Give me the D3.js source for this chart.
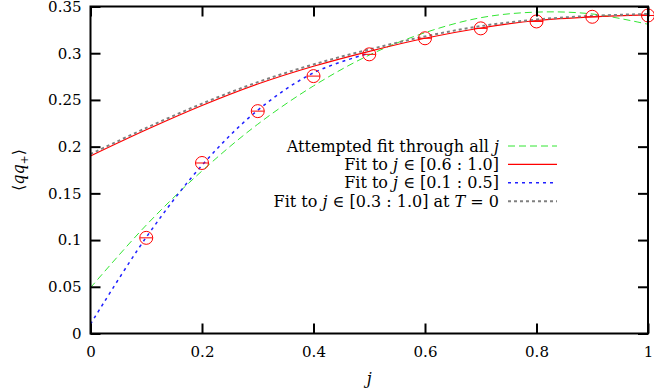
<!DOCTYPE html>
<head>
    <meta charset="utf-8">
    <title>qq+ fits</title>
    <script src="https://cdn.jsdelivr.net/npm/d3@7"></script>
    <style>
        body { margin: 0; background: #fff; }
        svg { display: block; }
        text { font-family: "DejaVu Serif", "Liberation Serif", serif; fill: #000; }
    </style>
</head>
<body>
    <svg id="chart"></svg>
    <script>
        // values
        let xTicks = [0, 0.2, 0.4, 0.6, 0.8, 1];
        let xTickLabels = ["0", "0.2", "0.4", "0.6", "0.8", "1"];
        let yTicks = [0, 0.05, 0.1, 0.15, 0.2, 0.25, 0.3, 0.35];
        let yTickLabels = ["0", "0.05", "0.1", "0.15", "0.2", "0.25", "0.3", "0.35"];

        let pointsJ = [0.1, 0.2, 0.3, 0.4, 0.5, 0.6, 0.7, 0.8, 0.9, 1.0];
        let pointsQ = [0.1024, 0.1825, 0.238, 0.2755, 0.2988, 0.316, 0.3266, 0.334, 0.339, 0.3404];

        let curveJ = [0, 0.1, 0.2, 0.3, 0.4, 0.5, 0.6, 0.7, 0.8, 0.9, 1.0];
        let greenQ = [0.049, 0.116, 0.174, 0.224, 0.265, 0.298, 0.322, 0.338, 0.344, 0.342, 0.331];
        let redQ = [0.190, 0.218, 0.244, 0.267, 0.286, 0.302, 0.316, 0.327, 0.335, 0.339, 0.341];
        let grayQ = [0.192, 0.220, 0.246, 0.269, 0.288, 0.304, 0.318, 0.329, 0.336, 0.340, 0.342];
        let blueJ = [0, 0.1, 0.2, 0.3, 0.4, 0.5];
        let blueQ = [0.010, 0.103, 0.180, 0.239, 0.279, 0.300];

        let W = 654, H = 390;
        let m = {left: 90.5, right: 6, top: 6.5, bottom: 56.5};

        let svg = d3.select("#chart").attr("width", W).attr("height", H);

        let x = d3.scaleLinear().domain([0, 1]).range([m.left, W - m.right]);
        let y = d3.scaleLinear().domain([0, 0.35]).range([H - m.bottom, m.top]);

        let gPlot = svg.append("g");

        let line = d3.line()
            .x(d => x(d[0]))
            .y(d => y(d[1]))
            .curve(d3.curveCatmullRom);

        let series = [
            {name: "green", js: curveJ, qs: greenQ, color: "#33e633", width: 1, dash: "7,4"},
            {name: "red", js: curveJ, qs: redQ, color: "#ff0000", width: 1.2, dash: null},
            {name: "blue", js: blueJ, qs: blueQ, color: "#2020ff", width: 1.5, dash: "3,4"},
            {name: "gray", js: curveJ, qs: grayQ, color: "#808080", width: 2, dash: "3,3"}
        ];

        gPlot.selectAll(".fit")
            .data(series)
            .enter()
            .append("path")
            .attr("class", "fit")
            .attr("d", s => line(s.js.map((j, i) => [j, s.qs[i]])))
            .style("fill", "none")
            .style("stroke", s => s.color)
            .style("stroke-width", s => s.width)
            .style("stroke-dasharray", s => s.dash);

        // data points with error bars
        let pts = pointsJ.map((j, i) => ({j: j, q: pointsQ[i]}));
        let gPts = gPlot.selectAll(".pt")
            .data(pts)
            .enter()
            .append("g")
            .attr("class", "pt");
        gPts.append("circle")
            .attr("cx", d => x(d.j))
            .attr("cy", d => y(d.q))
            .attr("r", 6.5)
            .style("fill", "none")
            .style("stroke", "red")
            .style("stroke-width", 1);
        gPts.append("line")
            .attr("x1", d => x(d.j) - 6.5)
            .attr("x2", d => x(d.j) + 6.5)
            .attr("y1", d => y(d.q))
            .attr("y2", d => y(d.q))
            .style("stroke", "red")
            .style("stroke-width", 1);

        // axes, ticks inward on all four sides
        let axB = svg.append("g").attr("transform", `translate(0,${y(0)})`)
            .call(d3.axisBottom(x).tickValues(xTicks).tickSize(-10).tickPadding(13)
                .tickFormat((d, i) => xTickLabels[i]));
        let axT = svg.append("g").attr("transform", `translate(0,${y(0.35)})`)
            .call(d3.axisTop(x).tickValues(xTicks).tickSize(-10).tickFormat(""));
        let axL = svg.append("g").attr("transform", `translate(${x(0)},0)`)
            .call(d3.axisLeft(y).tickValues(yTicks).tickSize(-10).tickPadding(9)
                .tickFormat((d, i) => yTickLabels[i]));
        let axR = svg.append("g").attr("transform", `translate(${x(1)},0)`)
            .call(d3.axisRight(y).tickValues(yTicks).tickSize(-10).tickFormat(""));

        [axB, axT, axL, axR].forEach(a => {
            a.select(".domain").remove();
            a.selectAll(".tick line").style("stroke", "#000").style("stroke-width", 2);
            a.selectAll(".tick text").style("font-size", "15px")
                .style("font-family", "'DejaVu Serif', serif");
        });

        svg.append("rect")
            .attr("x", x(0)).attr("y", y(0.35))
            .attr("width", x(1) - x(0)).attr("height", y(0) - y(0.35))
            .style("fill", "none").style("stroke", "#000").style("stroke-width", 2);

        // axis titles
        svg.append("text")
            .attr("x", x(0.5)).attr("y", 384)
            .attr("text-anchor", "middle")
            .style("font-size", "16px").style("font-style", "italic")
            .text("j");

        let yl = svg.append("text")
            .attr("transform", "translate(24,170) rotate(-90)")
            .attr("text-anchor", "middle")
            .style("font-size", "16px");
        yl.append("tspan").text("⟨");
        yl.append("tspan").style("font-style", "italic").text("qq");
        yl.append("tspan").attr("dy", 4).style("font-size", "11px").text("+");
        yl.append("tspan").attr("dy", -4).text("⟩");

        // legend
        let legend = [
            {parts: [["Attempted fit through all ", 0], ["j", 1]], s: series[0]},
            {parts: [["Fit to ", 0], ["j", 1], [" ∈ [0.6 : 1.0]", 0]], s: series[1]},
            {parts: [["Fit to ", 0], ["j", 1], [" ∈ [0.1 : 0.5]", 0]], s: series[2]},
            {parts: [["Fit to ", 0], ["j", 1], [" ∈ [0.3 : 1.0] at ", 0], ["T", 1], [" = 0", 0]], s: series[3]}
        ];
        let gLeg = svg.append("g");
        let rows = gLeg.selectAll(".row")
            .data(legend)
            .enter()
            .append("g")
            .attr("class", "row")
            .attr("transform", (d, i) => `translate(0,${146 + i * 18.4})`);
        rows.append("line")
            .attr("x1", 508).attr("x2", 557)
            .style("stroke", d => d.s.color)
            .style("stroke-width", d => d.s.width)
            .style("stroke-dasharray", d => d.s.dash);
        let lt = rows.append("text")
            .attr("x", 499).attr("y", 5.5)
            .attr("text-anchor", "end")
            .style("font-size", "16px");
        lt.selectAll("tspan")
            .data(d => d.parts)
            .enter()
            .append("tspan")
            .style("font-style", p => p[1] ? "italic" : "normal")
            .text(p => p[0]);
    </script>
</body>
